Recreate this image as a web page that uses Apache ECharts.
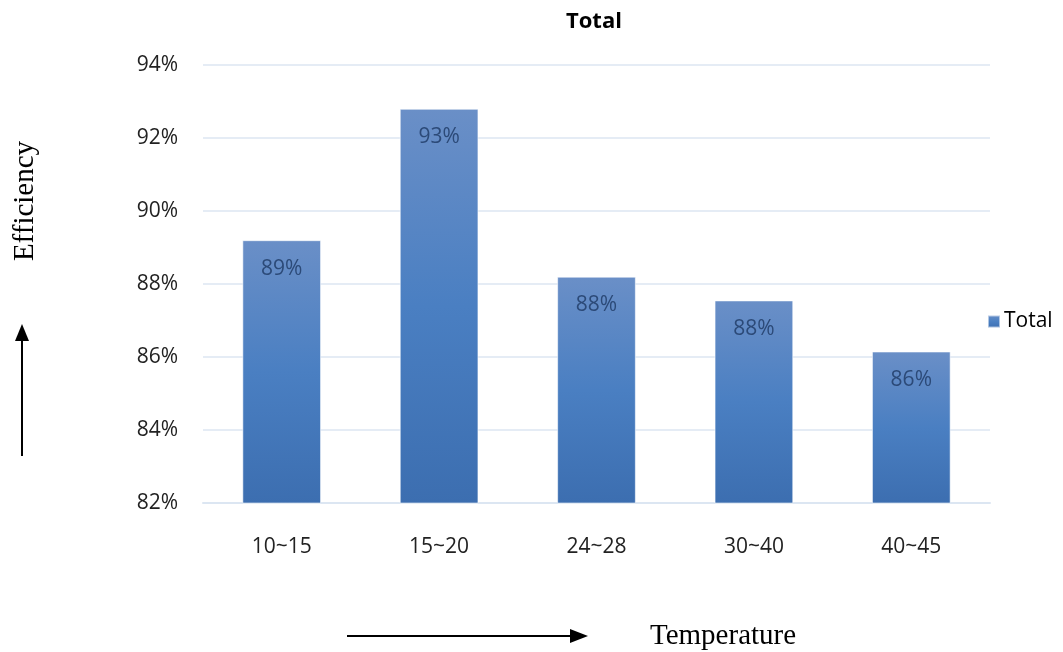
<!DOCTYPE html>
<html>
<head>
<meta charset="utf-8">
<script src="https://cdn.jsdelivr.net/npm/echarts@6/dist/echarts.min.js"></script>
<style>
  html, body { margin: 0; padding: 0; background: #fff; }
  #chart { width: 1063px; height: 652px; }
</style>
</head>
<body>
<div id="chart"></div>
<script>
// Efficiency by temperature range
const categories = ['10~15', '15~20', '24~28', '30~40', '40~45'];
const totalValues = [89.2, 92.8, 88.2, 87.55, 86.15];
const yTicks = { min: 82, max: 94, step: 2 };

const chart = echarts.init(document.getElementById('chart'));

const barGradient = new echarts.graphic.LinearGradient(0, 0, 0, 1, [
  { offset: 0, color: '#6a8fc7' },
  { offset: 0.5, color: '#4a7fc2' },
  { offset: 1, color: '#3c6eb0' }
]);

chart.setOption({
  animation: false,
  title: {
    text: 'Total',
    left: 561,
    top: 6,
    textStyle: { fontFamily: 'Open Sans', fontWeight: 'bold', fontSize: 22, color: '#000' }
  },
  legend: {
    data: ['Total'],
    orient: 'vertical',
    left: 982,
    top: 306,
    itemWidth: 12,
    itemHeight: 12,
    itemGap: 6,
    textStyle: { fontFamily: 'Open Sans', fontSize: 21, color: '#000', padding: [0, 0, 0, -1] },
    icon: 'rect'
  },
  grid: { left: 203, right: 73, top: 65, bottom: 149 },
  xAxis: {
    type: 'category',
    data: categories,
    axisLine: { show: true, lineStyle: { color: '#dce6f2', width: 2 } },
    axisTick: { show: false },
    axisLabel: { fontFamily: 'Open Sans', fontSize: 21, color: '#222', margin: 34 }
  },
  yAxis: {
    type: 'value',
    min: yTicks.min,
    max: yTicks.max,
    interval: yTicks.step,
    axisLine: { show: false },
    axisTick: { show: false },
    splitLine: { lineStyle: { color: '#dce6f2', width: 1.5 } },
    axisLabel: {
      fontFamily: 'Open Sans', fontSize: 21, color: '#222', margin: 25,
      formatter: v => v + '%'
    }
  },
  series: [{
    name: 'Total',
    type: 'bar',
    data: totalValues,
    barWidth: '50%',
    itemStyle: { color: barGradient, borderColor: 'rgba(255,255,255,0.55)', borderWidth: 1 },
    label: {
      show: true,
      position: 'insideTop',
      distance: 18,
      fontFamily: 'Open Sans',
      fontSize: 21,
      color: '#2c4a78',
      formatter: p => Math.round(p.value) + '%'
    }
  }],
  graphic: [
    {
      type: 'text',
      x: 25, y: 201,
      rotation: Math.PI / 2,
      style: { text: 'Efficiency', font: '29px "Liberation Serif"', fill: '#000', textAlign: 'center', textVerticalAlign: 'middle' }
    },
    { type: 'line', shape: { x1: 22, y1: 456, x2: 22, y2: 338 }, style: { stroke: '#000', lineWidth: 2 } },
    { type: 'polygon', shape: { points: [[22, 324], [15, 341], [29, 341]] }, style: { fill: '#000' } },
    { type: 'line', shape: { x1: 347, y1: 636, x2: 572, y2: 636 }, style: { stroke: '#000', lineWidth: 2 } },
    { type: 'polygon', shape: { points: [[588, 636], [570, 629], [570, 643]] }, style: { fill: '#000' } },
    {
      type: 'text',
      x: 650, y: 636,
      style: { text: 'Temperature', font: '29px "Liberation Serif"', fill: '#000', textVerticalAlign: 'middle' }
    }
  ]
});
</script>
</body>
</html>
